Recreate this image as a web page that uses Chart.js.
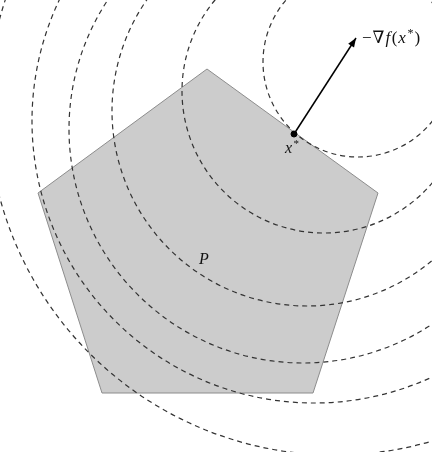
<!DOCTYPE html>
<html>
<head>
<meta charset="utf-8">
<script src="https://cdn.jsdelivr.net/npm/chart.js@4"></script>
<style>
  body { margin: 0; background: #ffffff; }
  #wrap { width: 432px; height: 452px; }
</style>
</head>
<body>
<div id="wrap"><canvas id="myChart" width="432" height="452"></canvas></div>
<script>
// polygon P (x, y in picture units, y grows downward)
const polyX = [207, 378, 313, 102, 38, 207];
const polyY = [69, 193, 393, 393, 193, 69];

// dashed level sets: centre and radius of each ring
const ringCx = [358, 324, 307, 303, 314, 335];
const ringCy = [62, 91, 111, 129, 121, 108];
const ringR = [95, 142, 195, 234, 282, 347];

// optimum point and the tip of the arrow
const optX = [294];
const optY = [134];
const tipX = [356];
const tipY = [38];

// label pieces: text, italic?, superscript?
const gradLabel = [['\u2212', false, false], ['\u2207', false, false], ['f', true, false], ['(', false, false],
                   ['x', true, false], ['*', false, true], [')', false, false]];
const optLabel = [['x', true, false], ['*', false, true]];
const polyLabel = 'P';

function toPts(xs, ys) {
  var pts = [];
  for (var i = 0; i < xs.length; i++) {
    pts.push({ x: xs[i], y: ys[i] });
  }
  return pts;
}

function drawPieces(ctx, pieces, x, y, size) {
  for (var i = 0; i < pieces.length; i++) {
    var p = pieces[i];
    var s = p[2] ? Math.round(size * 0.7) : size;
    ctx.font = (p[1] ? 'italic ' : '') + s + 'px "Liberation Serif", "DejaVu Serif", serif';
    var yy = p[2] ? y - size * 0.38 : y;
    ctx.fillText(p[0], x, yy);
    x += ctx.measureText(p[0]).width + (p[1] ? 1.5 : 1);
  }
}

const ringsPlugin = {
  id: 'rings',
  afterDatasetDraw: function(chart, args) {
    if (args.index !== 0) return;
    var ctx = chart.ctx;
    var sx = chart.scales.x;
    var sy = chart.scales.y;
    var area = chart.chartArea;
    ctx.save();
    ctx.beginPath();
    ctx.rect(area.left, area.top, area.right - area.left, area.bottom - area.top);
    ctx.clip();
    ctx.strokeStyle = '#333333';
    ctx.lineWidth = 1.2;
    ctx.setLineDash([5, 4]);
    for (var i = 0; i < ringR.length; i++) {
      var cx = sx.getPixelForValue(ringCx[i]);
      var cy = sy.getPixelForValue(ringCy[i]);
      var r = sx.getPixelForValue(ringCx[i] + ringR[i]) - cx;
      ctx.beginPath();
      ctx.arc(cx, cy, r, 0, Math.PI * 2);
      ctx.stroke();
    }
    ctx.restore();
  }
};

const notesPlugin = {
  id: 'notes',
  afterDatasetsDraw: function(chart) {
    var ctx = chart.ctx;
    var sx = chart.scales.x;
    var sy = chart.scales.y;
    // arrow head
    var x0 = sx.getPixelForValue(optX[0]), y0 = sy.getPixelForValue(optY[0]);
    var x1 = sx.getPixelForValue(tipX[0]), y1 = sy.getPixelForValue(tipY[0]);
    var a = Math.atan2(y1 - y0, x1 - x0);
    ctx.save();
    ctx.fillStyle = '#000000';
    ctx.beginPath();
    ctx.moveTo(x1, y1);
    ctx.lineTo(x1 - 9 * Math.cos(a) + 3.5 * Math.sin(a), y1 - 9 * Math.sin(a) - 3.5 * Math.cos(a));
    ctx.lineTo(x1 - 9 * Math.cos(a) - 3.5 * Math.sin(a), y1 - 9 * Math.sin(a) + 3.5 * Math.cos(a));
    ctx.closePath();
    ctx.fill();

    // texts
    ctx.fillStyle = '#111111';
    ctx.textBaseline = 'alphabetic';
    drawPieces(ctx, gradLabel, sx.getPixelForValue(362), sy.getPixelForValue(43), 17);
    drawPieces(ctx, optLabel, sx.getPixelForValue(285), sy.getPixelForValue(153), 16);
    ctx.font = 'italic 16px "Liberation Serif", serif';
    ctx.fillText(polyLabel, sx.getPixelForValue(199), sy.getPixelForValue(264));
    ctx.restore();
  }
};

function chartOnLoad() {
  const ctx = document.getElementById('myChart');

  new Chart(ctx, {
    type: 'scatter',
    data: {
      datasets: [{
        label: 'P',
        type: 'line',
        data: toPts(polyX, polyY),
        order: 3,
        fill: 'shape',
        backgroundColor: '#cccccc',
        borderColor: '#8c8c8c',
        borderWidth: 1,
        pointRadius: 0,
        tension: 0
      }, {
        label: 'grad',
        type: 'line',
        data: toPts(optX.concat(tipX), optY.concat(tipY)),
        order: 2,
        borderColor: '#000000',
        borderWidth: 1.5,
        pointRadius: 0,
        fill: false
      }, {
        label: 'x*',
        data: toPts(optX, optY),
        order: 1,
        pointRadius: 3,
        backgroundColor: '#000000',
        borderColor: '#000000'
      }]
    },
    options: {
      responsive: false,
      animation: false,
      events: [],
      layout: { padding: 0, autoPadding: false },
      plugins: {
        legend: { display: false },
        tooltip: { enabled: false }
      },
      scales: {
        x: { type: 'linear', display: false, min: 0, max: 432 },
        y: { type: 'linear', display: false, min: 0, max: 452, reverse: true }
      }
    },
    plugins: [ringsPlugin, notesPlugin]
  });
}

window.onload = chartOnLoad;
</script>
</body>
</html>
